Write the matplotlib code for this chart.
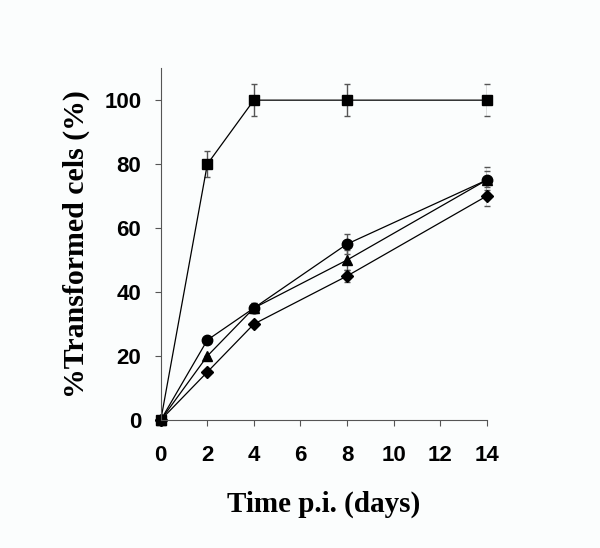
import matplotlib.pyplot as plt

days = [0, 2, 4, 8, 14]

square = [0, 80, 100, 100, 100]
square_err = [0, 4, 5, 5, 5]
circle = [0, 25, 35, 55, 75]
circle_err = [0, 0, 1.5, 3, 4]
triangle = [0, 20, 35, 50, 75]
triangle_err = [0, 0, 1.5, 3, 3]
diamond = [0, 15, 30, 45, 70]
diamond_err = [0, 0, 0, 2, 3]

fig = plt.figure(figsize=(6, 5.48), dpi=100)
fig.patch.set_facecolor('#fbfdfd')
ax = fig.add_axes([0.268, 0.2336, 0.543, 0.642])
ax.set_facecolor('#fbfdfd')

series = [
    (square, square_err, 's', 6.5),
    (circle, circle_err, 'o', 7.5),
    (triangle, triangle_err, '^', 7),
    (diamond, diamond_err, 'D', 6.2),
]
for vals, err, m, ms in series:
    ax.errorbar(days, vals, yerr=err, marker=m, markersize=ms, color='black',
                ecolor='#555555', elinewidth=1, capsize=2.5, capthick=1,
                linewidth=0.9, mfc='black', mec='black')

ax.set_xlim(0, 14)
ax.set_ylim(0, 110)
ax.set_xticks(range(0, 15, 2))
ax.set_yticks(range(0, 101, 20))
for s in ['top', 'right']:
    ax.spines[s].set_visible(False)
for s in ['left', 'bottom']:
    ax.spines[s].set_color('#555555')
    ax.spines[s].set_linewidth(0.8)
ax.tick_params(direction='out', length=4, color='#555555')
ax.tick_params(axis='x', pad=14)
ax.tick_params(axis='y', pad=10)
for lab in ax.get_xticklabels() + ax.get_yticklabels():
    lab.set_fontfamily('Liberation Sans')
    lab.set_fontweight('bold')
    lab.set_fontsize(16)

ax.set_xlabel('Time p.i. (days)', family='Liberation Serif', fontweight='bold',
              fontsize=21, labelpad=18)
ax.set_ylabel('%Transformed cels (%)', family='Liberation Serif', fontweight='bold',
              fontsize=21.5, labelpad=10)
for l in ax.get_lines():
    l.set_clip_on(False)

fig.savefig('out.png', dpi=100, facecolor=fig.get_facecolor())
